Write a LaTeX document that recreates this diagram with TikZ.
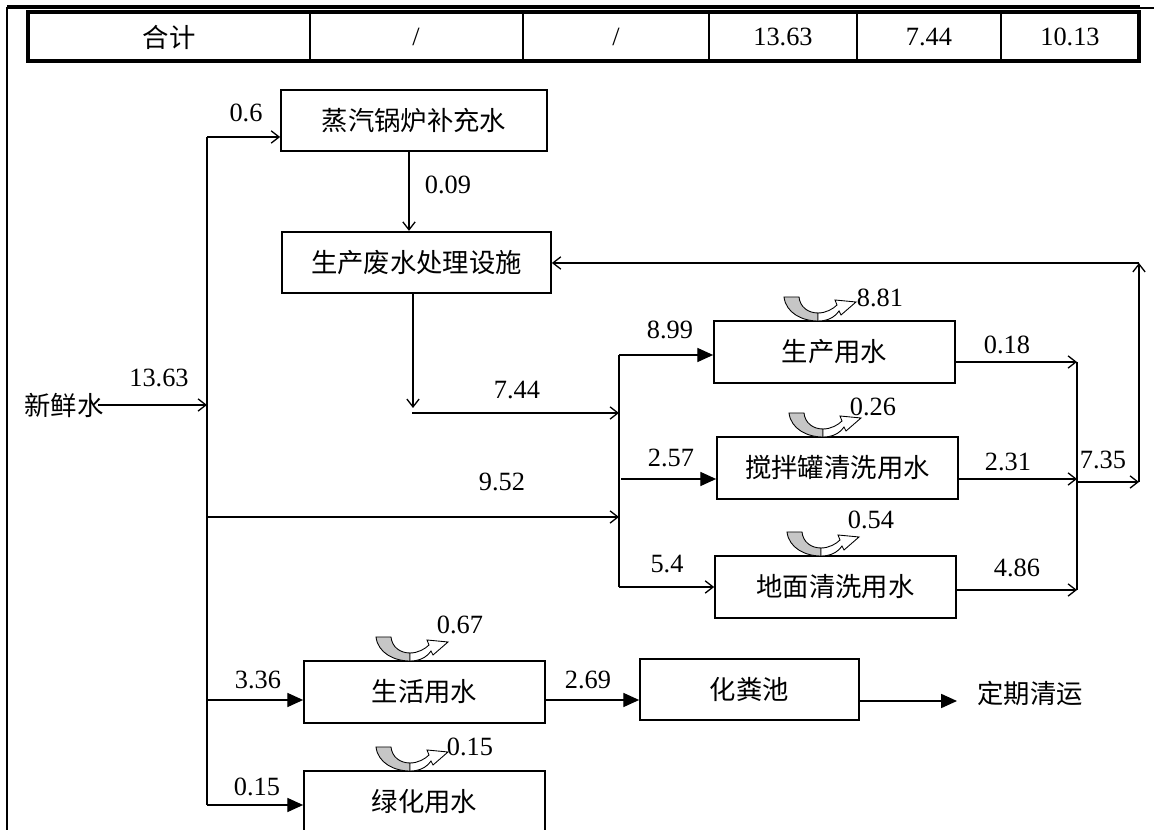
\documentclass[tikz,border=0pt]{standalone}
\usepackage{fontspec}
\setmainfont{Liberation Serif}
\newfontfamily\cjk{Noto Sans CJK SC}
\usetikzlibrary{arrows.meta,calc}
\newcommand{\fsz}{\fontsize{15}{18}\selectfont}
\tikzset{
  box/.style={draw,line width=1pt,minimum height=1.23cm,inner sep=0pt,font=\fsz\cjk},
  lbl/.style={inner sep=0pt,font=\fsz},
  flow/.style={line width=0.75pt,-{Straight Barb[length=4.5pt,width=7pt]}},
  feed/.style={line width=0.75pt,-{Triangle[length=9pt,width=8pt]}},
  pipe/.style={line width=0.75pt},
  evap/.pic={
    \filldraw[fill=gray!45,line width=0.5pt] (-34,-24) .. controls (-32,-8) and (-16,0) .. (0,0)
      -- (0,-8) .. controls (-10,-8) and (-18,-14) .. (-19,-24) -- cycle;
    \filldraw[fill=white,line width=0.5pt] (0,-8) .. controls (8,-8) and (15,-12) .. (19,-16)
      -- (17,-21) -- (38,-19) -- (23,-6) -- (21,-10) .. controls (16,-3) and (9,0) .. (0,0) -- cycle;
  }
}
\begin{document}
\begin{tikzpicture}[x=0.02cm,y=-0.02cm]
  \useasboundingbox (0,0) rectangle (1154,830);
  % Draw the table row
  \draw[line width=1.8pt] (7,7) -- (1140,7);
  \draw[line width=0.6pt] (1140,8) -- (1154,8);
  \draw[line width=0.8pt] (7,7) -- (7,830);
  \draw[line width=1.8pt] (28,12) rectangle (1139,61);
  \foreach \x in {310,523,709,857,1001}
    \draw[line width=0.6pt] (\x,12) -- (\x,61);
  \node[lbl,font=\fsz\cjk] (tsum) at (169,37) {合计};
  \node[lbl] (tc2) at (416,37) {/};
  \node[lbl] (tc3) at (616,37) {/};
  \node[lbl] (tc4) at (783,37) {13.63};
  \node[lbl] (tc5) at (929,37) {7.44};
  \node[lbl] (tc6) at (1070,37) {10.13};

  % boxes
  \node[box,minimum width=5.32cm] (boiler) at (414,120.5) {蒸汽锅炉补充水};
  \node[box,minimum width=5.38cm] (treat) at (416.5,262.5) {生产废水处理设施};
  \node[box,minimum width=4.82cm] (prod) at (834.5,352) {生产用水};
  \node[box,minimum width=4.82cm] (tank) at (837.5,468) {搅拌罐清洗用水};
  \node[box,minimum width=4.82cm] (floor) at (835.5,587) {地面清洗用水};
  \node[box,minimum width=4.82cm] (life) at (424.5,692) {生活用水};
  \node[box,minimum width=4.38cm] (septic) at (749.5,689.5) {化粪池};
  \node[box,minimum width=4.82cm] (green) at (424.5,802) {绿化用水};
  \node[lbl,font=\fsz\cjk] (fresh) at (64,405) {新鲜水};
  \node[lbl,font=\fsz\cjk,anchor=west] (haul) at (977,693) {定期清运};

  % fresh water trunk
  \coordinate (tTop) at (207,137);
  \coordinate (tBot) at (207,805);
  \draw[pipe] (tTop) -- (tBot);
  \draw[flow] ($(fresh.east)+(-6,0)$) -- (fresh.east -| tTop);
  \draw[flow] (tTop) -- (tTop -| boiler.west);
  \coordinate (xb) at (409,0);
  \draw[flow] (boiler.south -| xb) -- (treat.north -| xb);

  % treated water to distributor
  \coordinate (xd) at (413,408);
  \draw[flow] (treat.south -| xd) -- (xd);
  \coordinate (dTop) at (619,355);
  \coordinate (dBot) at (619,587);
  \draw[pipe] (dTop) -- (dBot);
  \coordinate (h744) at (412,413);
  \draw[flow] (h744) -- (h744 -| dTop);
  \coordinate (h952) at (207,517);
  \draw[flow] (h952) -- (h952 -| dTop);
  \draw[feed] (dTop) -- (dTop -| prod.west);
  \coordinate (h257) at (621,479);
  \draw[feed] (h257) -- (h257 -| tank.west);
  \draw[flow] (dBot) -- (dBot -| floor.west);

  % collector and return
  \coordinate (cTop) at (1077,362);
  \coordinate (cBot) at (1077,590);
  \draw[pipe] (cTop) -- (cBot);
  \draw[flow] (prod.east |- cTop) -- (cTop);
  \coordinate (h231) at (1077,479);
  \draw[flow] (tank.east |- h231) -- (h231);
  \draw[flow] (floor.east |- cBot) -- (cBot);
  \coordinate (h735) at (1077,482);
  \coordinate (rBot) at (1139,482);
  \coordinate (rTop) at (1139,263);
  \draw[flow] (h735) -- (rBot);
  \draw[flow] (rBot) -- (rTop);
  \draw[flow] (rTop) -- (rTop -| treat.east);

  % domestic and greening
  \coordinate (h336) at (207,700);
  \draw[feed] (h336) -- (h336 -| life.west);
  \draw[feed] (tBot) -- (tBot -| green.west);
  \draw[feed] (life.east |- h336) -- (septic.west |- h336);
  \coordinate (sOut) at (957,701);
  \draw[feed] (septic.east |- sOut) -- (sOut);

  % evaporation losses
  \pic (evProd) at (818,321) {evap};
  \pic (evTank) at (823,437) {evap};
  \pic (evFloor) at (821,556) {evap};
  \pic (evLife) at (410,661) {evap};
  \pic (evGreen) at (410,771) {evap};

  % flow values
  \node[lbl] (v1363) at (159,378) {13.63};
  \node[lbl] (v06) at (246,113) {0.6};
  \node[lbl] (v009) at (448,185) {0.09};
  \node[lbl] (v744) at (517,390) {7.44};
  \node[lbl] (v952) at (502,482) {9.52};
  \node[lbl] (v899) at (670,330) {8.99};
  \node[lbl] (v257) at (671,458) {2.57};
  \node[lbl] (v54) at (667,564) {5.4};
  \node[lbl] (v018) at (1007,345) {0.18};
  \node[lbl] (v231) at (1008,462) {2.31};
  \node[lbl] (v486) at (1017,568) {4.86};
  \node[lbl] (v735) at (1103,460) {7.35};
  \node[lbl] (v881) at (880,298) {8.81};
  \node[lbl] (v026) at (873,407) {0.26};
  \node[lbl] (v054) at (871,520) {0.54};
  \node[lbl] (v336) at (258,680) {3.36};
  \node[lbl] (v015) at (257,787) {0.15};
  \node[lbl] (v269) at (588,680) {2.69};
  \node[lbl] (v067) at (460,625) {0.67};
  \node[lbl] (v015b) at (470,747) {0.15};
\end{tikzpicture}
\end{document}
